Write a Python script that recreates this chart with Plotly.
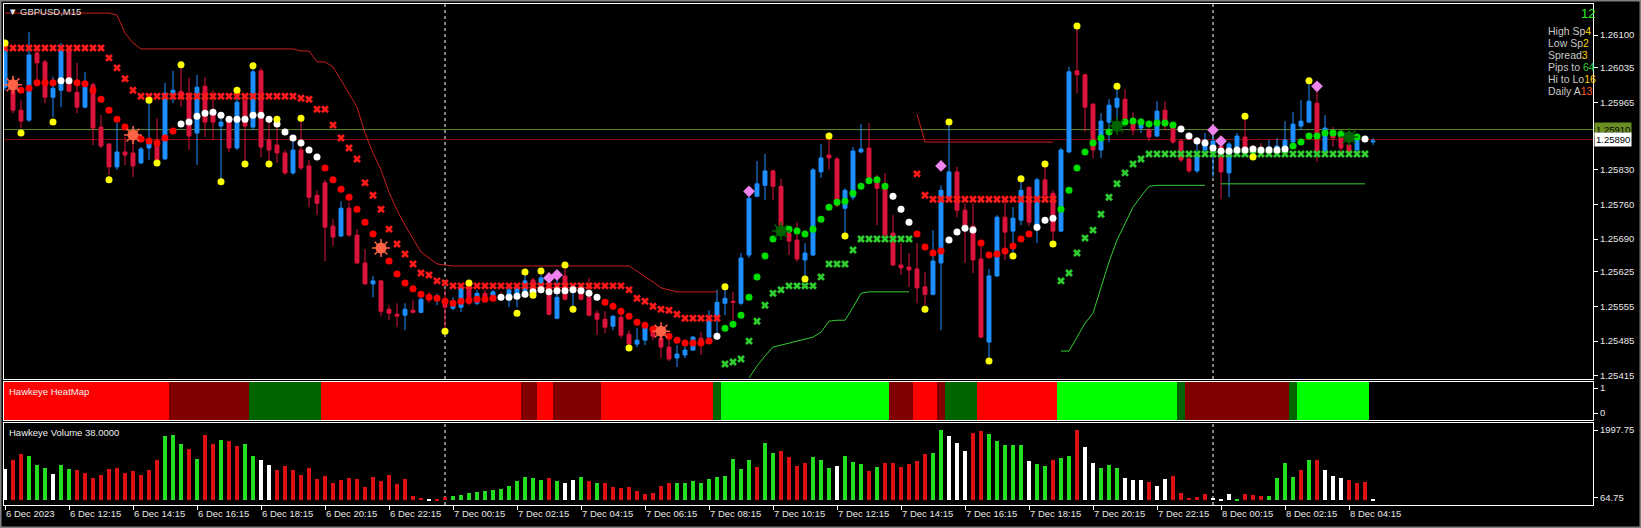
import plotly.graph_objects as go
from plotly.subplots import make_subplots

# ---------------- DATA ----------------
opens = [1.25995,1.25993,1.25949,1.25929,1.26064,1.26046,1.25975,1.25989,1.26072,1.25985,
 1.25955,1.26000,1.25915,1.25881,1.25835,1.25865,1.25863,1.25843,1.25873,1.25885,
 1.25851,1.25983,1.25987,1.25983,1.25903,1.25997,1.25943,1.25917,1.25933,1.25873,
 1.25969,1.25915,1.26028,1.25889,1.25879,1.25863,1.25823,1.25869,1.25837,1.25778,
 1.25803,1.25716,1.25696,1.25752,1.25698,1.25642,1.25600,1.25606,1.25549,1.25539,
 1.25537,1.25547,1.25543,1.25575,1.25567,1.25567,1.25551,1.25553,1.25600,1.25561,
 1.25581,1.25571,1.25577,1.25571,1.25573,1.25584,1.25608,1.25588,1.25594,1.25531,
 1.25616,1.25584,1.25592,1.25573,1.25541,1.25529,1.25515,1.25533,1.25499,1.25479,
 1.25487,1.25507,1.25491,1.25473,1.25451,1.25457,1.25467,1.25491,1.25493,1.25533,
 1.25561,1.25565,1.25561,1.25658,1.25776,1.25798,1.25827,1.25796,1.25702,1.25688,
 1.25648,1.25658,1.25825,1.25859,1.25851,1.25752,1.25774,1.25865,1.25873,1.25813,
 1.25792,1.25702,1.25638,1.25634,1.25630,1.25594,1.25579,1.25642,1.25774,1.25825,
 1.25748,1.25716,1.25650,1.25483,1.25616,1.25734,1.25706,1.25728,1.25794,1.25718,
 1.25809,1.25782,1.25706,1.25865,1.26028,1.26020,1.25961,1.25869,1.25925,1.25955,
 1.25971,1.25923,1.25913,1.25909,1.25897,1.25949,1.25915,1.25887,1.25851,1.25827,
 1.25869,1.25865,1.25877,1.25823,1.25875,1.25895,1.25873,1.25873,1.25867,1.25867,
 1.25869,1.25885,1.25917,1.25925,1.25963,1.25865,1.25903,1.25895,1.25879,1.25869,
 1.25889,1.25885]
highs = [1.26080,1.26014,1.25969,1.26106,1.26076,1.26050,1.26016,1.26084,1.26076,1.26044,
 1.26026,1.26004,1.25939,1.25883,1.25923,1.25895,1.25903,1.25875,1.25963,1.25933,
 1.26004,1.26028,1.26036,1.26014,1.26020,1.26016,1.25989,1.25943,1.25935,1.25983,
 1.25975,1.26034,1.26034,1.25929,1.25925,1.25869,1.25889,1.25929,1.25849,1.25788,
 1.25809,1.25730,1.25766,1.25764,1.25710,1.25670,1.25616,1.25608,1.25557,1.25561,
 1.25561,1.25567,1.25581,1.25584,1.25581,1.25588,1.25573,1.25594,1.25604,1.25588,
 1.25588,1.25588,1.25584,1.25592,1.25594,1.25618,1.25612,1.25618,1.25602,1.25614,
 1.25634,1.25594,1.25602,1.25612,1.25547,1.25545,1.25537,1.25551,1.25507,1.25511,
 1.25521,1.25517,1.25507,1.25501,1.25477,1.25481,1.25495,1.25503,1.25547,1.25588,
 1.25588,1.25584,1.25662,1.25776,1.25847,1.25861,1.25829,1.25811,1.25714,1.25724,
 1.25682,1.25833,1.25881,1.25889,1.25855,1.25792,1.25875,1.25921,1.25923,1.25819,
 1.25823,1.25738,1.25682,1.25662,1.25682,1.25624,1.25708,1.25798,1.25919,1.25835,
 1.25762,1.25762,1.25688,1.25630,1.25738,1.25774,1.25754,1.25807,1.25796,1.25813,
 1.25835,1.25788,1.25873,1.26036,1.26114,1.26022,1.25963,1.25943,1.25971,1.25993,
 1.25991,1.25945,1.25933,1.25915,1.25967,1.25967,1.25923,1.25891,1.25857,1.25895,
 1.25903,1.25903,1.25879,1.25885,1.25903,1.25929,1.25879,1.25883,1.25889,1.25893,
 1.25927,1.25945,1.25969,1.26004,1.25989,1.25939,1.25915,1.25909,1.25885,1.25901,
 1.25897,1.25893]
lows = [1.25989,1.25943,1.25913,1.25925,1.26004,1.25963,1.25935,1.25955,1.25985,1.25943,
 1.25953,1.25879,1.25873,1.25819,1.25829,1.25839,1.25815,1.25841,1.25849,1.25845,
 1.25849,1.25963,1.25955,1.25869,1.25839,1.25895,1.25889,1.25809,1.25865,1.25869,
 1.25843,1.25909,1.25855,1.25845,1.25843,1.25819,1.25819,1.25829,1.25754,1.25738,
 1.25646,1.25676,1.25694,1.25694,1.25640,1.25598,1.25573,1.25535,1.25527,1.25513,
 1.25507,1.25541,1.25541,1.25561,1.25557,1.25511,1.25547,1.25543,1.25557,1.25557,
 1.25567,1.25567,1.25567,1.25553,1.25553,1.25581,1.25577,1.25584,1.25537,1.25529,
 1.25567,1.25551,1.25567,1.25535,1.25497,1.25501,1.25507,1.25491,1.25475,1.25473,
 1.25477,1.25487,1.25451,1.25445,1.25433,1.25451,1.25465,1.25457,1.25487,1.25493,
 1.25537,1.25527,1.25557,1.25652,1.25774,1.25768,1.25768,1.25704,1.25658,1.25644,
 1.25612,1.25656,1.25813,1.25829,1.25754,1.25702,1.25768,1.25863,1.25805,1.25718,
 1.25694,1.25636,1.25618,1.25594,1.25561,1.25557,1.25577,1.25507,1.25768,1.25734,
 1.25642,1.25622,1.25491,1.25453,1.25614,1.25648,1.25662,1.25718,1.25716,1.25682,
 1.25774,1.25688,1.25704,1.25863,1.25983,1.25905,1.25853,1.25853,1.25885,1.25929,
 1.25923,1.25899,1.25903,1.25887,1.25895,1.25909,1.25881,1.25845,1.25823,1.25823,
 1.25859,1.25815,1.25770,1.25774,1.25869,1.25865,1.25859,1.25865,1.25865,1.25865,
 1.25865,1.25883,1.25909,1.25923,1.25845,1.25863,1.25875,1.25865,1.25859,1.25865,
 1.25885,1.25879]
closes = [1.26070,1.25949,1.25927,1.26060,1.26044,1.25975,1.25993,1.26072,1.25987,1.25955,
 1.25995,1.25913,1.25877,1.25835,1.25865,1.25859,1.25837,1.25871,1.25885,1.25849,
 1.25983,1.25989,1.25975,1.25897,1.25995,1.25925,1.25925,1.25925,1.25873,1.25965,
 1.25917,1.26026,1.25875,1.25869,1.25863,1.25823,1.25869,1.25833,1.25774,1.25762,
 1.25714,1.25694,1.25752,1.25698,1.25642,1.25600,1.25606,1.25545,1.25541,1.25535,
 1.25549,1.25543,1.25569,1.25569,1.25573,1.25553,1.25557,1.25592,1.25561,1.25581,
 1.25571,1.25584,1.25573,1.25588,1.25590,1.25606,1.25581,1.25612,1.25539,1.25573,
 1.25569,1.25592,1.25569,1.25537,1.25529,1.25513,1.25535,1.25497,1.25479,1.25487,
 1.25513,1.25495,1.25473,1.25449,1.25459,1.25467,1.25493,1.25477,1.25529,1.25563,
 1.25571,1.25563,1.25652,1.25772,1.25801,1.25827,1.25796,1.25718,1.25686,1.25650,
 1.25662,1.25829,1.25853,1.25853,1.25758,1.25788,1.25867,1.25871,1.25813,1.25792,
 1.25698,1.25638,1.25632,1.25628,1.25592,1.25579,1.25646,1.25788,1.25825,1.25748,
 1.25716,1.25648,1.25493,1.25616,1.25734,1.25704,1.25732,1.25788,1.25724,1.25809,
 1.25778,1.25706,1.25869,1.26026,1.26020,1.25955,1.25869,1.25927,1.25959,1.25973,
 1.25929,1.25909,1.25919,1.25895,1.25947,1.25925,1.25885,1.25849,1.25827,1.25859,
 1.25889,1.25887,1.25825,1.25881,1.25897,1.25867,1.25865,1.25867,1.25875,1.25877,
 1.25889,1.25921,1.25927,1.25967,1.25865,1.25913,1.25893,1.25873,1.25865,1.25895,
 1.25893,1.25887]

# trailing dots: price per bar and kind (r=red, w=white, g=green, o=orange burst, d=dark green burst, -=none)
dot_price = [None,1.26000,1.25989,1.25993,1.26004,1.26004,1.26004,1.26008,1.26008,1.26004,
 1.26002,1.25989,1.25971,1.25949,1.25931,1.25915,1.25899,1.25891,1.25887,1.25883,
 1.25893,1.25907,1.25921,1.25925,1.25937,1.25943,1.25945,1.25939,1.25931,1.25931,
 1.25931,1.25939,1.25939,1.25931,1.25921,1.25905,1.25893,1.25883,1.25869,1.25855,
 1.25833,1.25809,1.25790,1.25774,1.25750,1.25724,1.25700,1.25672,1.25646,1.25620,
 1.25602,1.25590,1.25579,1.25573,1.25571,1.25565,1.25561,1.25565,1.25567,1.25569,
 1.25569,1.25571,1.25573,1.25573,1.25575,1.25579,1.25584,1.25588,1.25584,1.25586,
 1.25586,1.25588,1.25586,1.25581,1.25573,1.25563,1.25555,1.25545,1.25535,1.25523,
 1.25517,1.25509,1.25505,1.25495,1.25487,1.25481,1.25481,1.25481,1.25485,1.25495,
 1.25511,1.25519,1.25537,1.25573,1.25614,1.25656,1.25690,1.25706,1.25710,1.25706,
 1.25700,1.25710,1.25730,1.25754,1.25764,1.25766,1.25782,1.25796,1.25807,1.25809,
 1.25796,1.25776,1.25750,1.25724,1.25700,1.25674,1.25662,1.25666,1.25688,1.25704,
 1.25712,1.25708,1.25682,1.25658,1.25660,1.25666,1.25676,1.25690,1.25700,1.25714,
 1.25728,1.25732,1.25750,1.25788,1.25833,1.25865,1.25883,1.25893,1.25905,1.25917,
 1.25925,1.25927,1.25925,1.25921,1.25923,1.25923,1.25919,1.25911,1.25897,1.25887,
 1.25883,1.25873,1.25867,1.25867,1.25869,1.25869,1.25871,1.25869,1.25869,1.25869,
 1.25871,1.25877,1.25885,1.25897,1.25897,1.25903,1.25903,1.25901,1.25895,1.25895,
 1.25891,None]
dot_kind = ("-orrrrrwwr" "rrrrrrorrr" "rrwwwwwwww" "wwwwwwwwww" "rrrrrrrorr"
            "rrrrrrrrrr" "rrwwwwwwww" "wwwwwrrrrr" "rrorrrrrrw" "gggggggdgg"
            "gggggggggg" "gwwwrrrrww" "wwrrrrrrrw" "wwgggggggd" "gggggggwww"
            "wwwwwwwwww" "wgggggggdg" "w-")

# trailing-stop crosses
xmark_price = [1.26074,1.26074,1.26074,1.26074,1.26074,1.26074,1.26074,1.26074,1.26074,1.26074,
 1.26074,1.26074,1.26074,1.26054,1.26034,1.26012,1.25989,1.25977,1.25977,1.25977,
 1.25977,1.25977,1.25977,1.25977,1.25977,1.25977,1.25977,1.25977,1.25977,1.25977,
 1.25977,1.25977,1.25977,1.25977,1.25977,1.25977,1.25977,1.25973,1.25971,1.25951,
 1.25951,1.25919,1.25893,1.25873,1.25851,1.25803,1.25778,1.25750,1.25710,1.25680,
 1.25660,1.25640,1.25622,1.25618,1.25606,1.25602,1.25596,1.25596,1.25596,1.25596,
 1.25596,1.25596,1.25596,1.25596,1.25596,1.25596,1.25596,1.25596,1.25596,1.25596,
 1.25596,1.25596,1.25596,1.25596,1.25596,1.25596,1.25596,1.25596,1.25588,1.25571,
 1.25565,1.25555,1.25549,1.25547,1.25539,1.25531,1.25531,1.25531,1.25531,1.25531,
 1.25439,1.25443,1.25449,1.25485,1.25525,1.25557,1.25581,1.25588,1.25596,1.25596,
 1.25596,1.25596,1.25614,1.25640,1.25640,1.25640,1.25668,1.25690,1.25690,1.25690,
 1.25690,1.25690,1.25690,1.25690,1.25821,1.25778,1.25770,1.25770,1.25770,1.25770,
 1.25770,1.25770,1.25770,1.25770,1.25770,1.25770,1.25770,1.25770,1.25770,1.25770,
 1.25770,1.25770,1.25606,1.25622,1.25662,1.25692,1.25708,1.25740,1.25774,1.25801,
 1.25823,1.25841,1.25851,1.25861,1.25861,1.25861,1.25861,1.25861,1.25861,1.25861,
 1.25861,1.25861,1.25861,1.25861,1.25861,1.25861,1.25861,1.25861,1.25861,1.25861,
 1.25861,1.25861,1.25861,1.25861,1.25861,1.25861,1.25861,1.25861,1.25861,1.25861,
 1.25861,None]
xmark_kind = ("rrrrrrrrrr" "rrrrrrrrrr" "rrrrrrrrrr" "rrrrrrrrrr" "rrrrrrrrrr"
              "rrrrrrrrrr" "rrrrrrrrrr" "rrrrrrrrrr" "rrrrrrrrrr" "gggggggggg"
              "gggggggggg" "ggggrrrrrr" "rrrrrrrrrr" "rrgggggggg" "gggggggggg"
              "gggggggggg" "gggggggggg" "g-")

# envelope lines (segments: start bar, values)
red_band_1_start = 0
red_band_1 = [1.26144,1.26144,1.26144,1.26144,1.26144,1.26144,1.26144,1.26144,1.26144,1.26144,
 1.26144,1.26144,1.26144,1.26144,1.26140,1.26104,1.26084,1.26072,1.26072,1.26072,
 1.26072,1.26072,1.26072,1.26072,1.26072,1.26072,1.26072,1.26072,1.26072,1.26072,
 1.26072,1.26072,1.26072,1.26072,1.26072,1.26072,1.26072,1.26068,1.26068,1.26046,
 1.26046,1.26036,1.26010,1.25983,1.25955,1.25903,1.25863,1.25829,1.25784,1.25748,
 1.25718,1.25692,1.25664,1.25652,1.25640,1.25638,1.25636,1.25636,1.25636,1.25636,
 1.25636,1.25636,1.25636,1.25636,1.25636,1.25636,1.25636,1.25636,1.25636,1.25636,
 1.25636,1.25636,1.25636,1.25636,1.25636,1.25636,1.25636,1.25636,1.25636,1.25626,
 1.25614,1.25604,1.25592,1.25588,1.25584,1.25584,1.25584,1.25584,1.25584,1.25584]
red_band_2_start = 114
red_band_2 = [1.25941,1.25885,1.25885,1.25885,1.25885,1.25885,1.25885,1.25885,1.25885,1.25885,
 1.25885,1.25885,1.25885,1.25885,1.25885,1.25885,1.25885,1.25885]
green_band_1_start = 93
green_band_1 = [1.25411,1.25435,1.25455,1.25473,1.25477,1.25481,1.25485,1.25489,1.25493,1.25503,
 1.25525,1.25527,1.25527,1.25553,1.25581,1.25584,1.25584,1.25584,1.25584,1.25584,1.25584]
green_band_2_start = 132
green_band_2 = [1.25465,1.25465,1.25493,1.25521,1.25541,1.25594,1.25644,1.25688,1.25720,1.25754,
 1.25776,1.25796,1.25798,1.25798,1.25798,1.25798,1.25798,1.25798,1.25798]
green_band_3_start = 152
green_band_3 = [1.25801,1.25801,1.25801,1.25801,1.25801,1.25801,1.25801,1.25801,1.25801,1.25801,
 1.25801,1.25801,1.25801,1.25801,1.25801,1.25801,1.25801,1.25801,1.25801]

yellow_idx = [0,2,6,13,18,19,22,27,29,30,31,33,34,37,55,58,64,65,66,67,70,71,78,90,100,103,105,
              115,118,123,126,127,130,131,134,139,155,156,163]
yellow_price = [1.26084,1.25903,1.25925,1.25809,1.25969,1.25843,1.26040,1.25805,1.25989,1.25841,
                1.26038,1.25841,1.25931,1.25933,1.25505,1.25602,1.25541,1.25624,1.25577,1.25626,
                1.25638,1.25549,1.25471,1.25594,1.25610,1.25897,1.25696,1.25549,1.25925,1.25445,
                1.25656,1.25811,1.25841,1.25680,1.26118,1.25997,1.25937,1.25855,1.26008]
diamond_idx = [68,69,93,117,151,152,164]
diamond_price = [1.25612,1.25618,1.25786,1.25837,1.25909,1.25887,1.25997]

hline_prices = [1.25910, 1.25890]
day_sep_idx = [55, 151]

# heat map state runs
heat_runs = [("red",21),("dkred",10),("dkgreen",9),("red",25),("dkred",2),("red",2),("dkred",6),
             ("red",14),("dkgreen",1),("lime",21),("dkred",3),("red",3),("dkred",1),("dkgreen",4),
             ("red",10),("lime",15),("dkgreen",1),("dkred",13),("dkgreen",1),("lime",9)]

vol = [890,1146,1316,1259,1004,910,748,1004,890,862,
 785,643,719,890,928,785,833,719,862,1146,
 1828,1856,1600,1458,1174,1856,1600,1714,1686,1544,
 1600,1259,1146,1004,862,975,862,719,918,606,
 691,492,577,634,606,387,662,549,719,463,
 606,122,60,40,30,90,120,150,200,230,
 260,300,330,420,560,650,620,580,640,560,
 500,580,660,560,500,483,370,341,370,265,
 180,199,407,483,483,483,549,483,606,653,
 691,1174,890,1146,947,1629,1345,1402,1231,975,
 1060,1231,1146,918,975,1259,1089,1032,833,947,
 1060,1060,947,1032,1117,1316,1345,1997,1828,1629,
 1402,1913,1970,1885,1686,1572,1572,1572,1117,1032,
 975,1146,1203,1259,1990,1515,1060,918,1004,918,
 634,577,577,520,407,606,691,208,65,94,
 180,60,30,180,30,180,151,122,122,634,
 1060,662,862,1146,1146,862,691,634,577,492,
 520,20]
vol_kind = ("wrrgggwggr" "rrrrrrrrrr" "gggrgrrgrr" "ggwwrrrrrr" "rrrrrrrrrr"
            "rrrwrrgggg" "ggggggggrg" "wwgrgrrrrr" "rrrrgggggg" "ggggrggrrr"
            "rgggwgggrg" "rrrrrrggww" "wrrgggggwg" "grggrwwggg" "wwwrwwrrrr"
            "rwwwgrrrgg" "ggrgrwwwrr" "rw")

label_idx = [0,8,16,24,32,40,48,56,64,72,80,88,96,104,112,120,128,136,144,152,160,168]
time_labels = ["6 Dec 2023","6 Dec 12:15","6 Dec 14:15","6 Dec 16:15","6 Dec 18:15","6 Dec 20:15",
               "6 Dec 22:15","7 Dec 00:15","7 Dec 02:15","7 Dec 04:15","7 Dec 06:15","7 Dec 08:15",
               "7 Dec 10:15","7 Dec 12:15","7 Dec 14:15","7 Dec 16:15","7 Dec 18:15","7 Dec 20:15",
               "7 Dec 22:15","8 Dec 00:15","8 Dec 02:15","8 Dec 04:15"]
price_ticks = [1.26100,1.26035,1.25965,1.25830,1.25760,1.25690,1.25625,1.25555,1.25485,1.25415]
vol_ticks = [64.75, 1997.75]

info_labels = ["High Sp", "Low Sp", "Spread", "Pips to ", "Hi to Lo", "Daily A"]
info_values = ["4", "2", "3", "64", "16", "13"]

# ---------------- STYLE ----------------
W, H = 1641, 528
L, R, T, B = 4, 48, 4, 23
PW, PH = W - L - R, H - T - B
FONT = "Liberation Sans, Arial, sans-serif"
UP, DN = "#1E90FF", "#DC143C"
DOT_COL = {"r": "#FF0000", "w": "#FFFFFF", "g": "#00E000", "o": "#FF6347", "d": "#006400"}
XM_COL = {"r": "#FF1A1A", "g": "#2ECC2E"}
HEAT_COL = {"red": "#FF0000", "dkred": "#800000", "dkgreen": "#006400", "lime": "#00FF00"}
VOL_COL = {"g": "#22DD22", "r": "#DD1111", "w": "#FFFFFF"}
info_colors = ["#FFD700", "#FFD700", "#FFD700", "#33CC33", "#FFCC00", "#FF5A1E"]


def py(p):
    return (H - B - p) / PH


def px(p):
    return (p - L) / PW


n = len(opens)
idx = list(range(n))

fig = make_subplots(rows=3, cols=1, shared_xaxes=True, vertical_spacing=0.005)

# envelope lines
for start, vals, col in [(red_band_1_start, red_band_1, "#C81E1E"), (red_band_2_start, red_band_2, "#C81E1E"),
                         (green_band_1_start, green_band_1, "#33CC33"), (green_band_2_start, green_band_2, "#33CC33"),
                         (green_band_3_start, green_band_3, "#33CC33")]:
    fig.add_trace(go.Scatter(x=list(range(start, start + len(vals))), y=vals, mode="lines",
                             line=dict(color=col, width=1), hoverinfo="skip"), row=1, col=1)

fig.add_trace(go.Candlestick(x=idx, open=opens, high=highs, low=lows, close=closes,
                             increasing=dict(line=dict(color=UP, width=1), fillcolor=UP),
                             decreasing=dict(line=dict(color=DN, width=1), fillcolor=DN),
                             whiskerwidth=0, hoverinfo="skip"), row=1, col=1)

# crosses
for k in "rg":
    xs = [i for i in idx if xmark_kind[i] == k]
    fig.add_trace(go.Scatter(x=xs, y=[xmark_price[i] for i in xs], mode="markers",
                             marker=dict(symbol="x", size=7, color=XM_COL[k], line=dict(width=0)),
                             hoverinfo="skip"), row=1, col=1)

# dots
for k in "rwg":
    xs = [i for i in idx if dot_kind[i] == k]
    fig.add_trace(go.Scatter(x=xs, y=[dot_price[i] for i in xs], mode="markers",
                             marker=dict(symbol="circle", size=7, color=DOT_COL[k], line=dict(width=0)),
                             hoverinfo="skip"), row=1, col=1)
for k in "od":
    xs = [i for i in idx if dot_kind[i] == k]
    ys = [dot_price[i] for i in xs]
    fig.add_trace(go.Scatter(x=xs, y=ys, mode="markers",
                             marker=dict(symbol="circle", size=11, color=DOT_COL[k], line=dict(width=0)),
                             hoverinfo="skip"), row=1, col=1)
    fig.add_trace(go.Scatter(x=xs, y=ys, mode="markers",
                             marker=dict(symbol="asterisk-open", size=15, color=DOT_COL[k],
                                         line=dict(width=1.5, color=DOT_COL[k])),
                             hoverinfo="skip"), row=1, col=1)

fig.add_trace(go.Scatter(x=yellow_idx, y=yellow_price, mode="markers",
                         marker=dict(symbol="circle", size=7, color="#FFFF00", line=dict(width=0)),
                         hoverinfo="skip"), row=1, col=1)
fig.add_trace(go.Scatter(x=diamond_idx, y=diamond_price, mode="markers",
                         marker=dict(symbol="diamond", size=9, color="#EE82EE", line=dict(width=0)),
                         hoverinfo="skip"), row=1, col=1)

# heat map
heat_colors = []
for name, cnt in heat_runs:
    heat_colors += [HEAT_COL[name]] * cnt
fig.add_trace(go.Bar(x=idx[:len(heat_colors)], y=[1.6] * len(heat_colors), base=-0.3, width=1.0,
                     marker=dict(color=heat_colors, line=dict(width=0)), hoverinfo="skip"), row=2, col=1)

# volume
fig.add_trace(go.Bar(x=idx, y=vol, width=0.38,
                     marker=dict(color=[VOL_COL[vol_kind[i]] for i in idx], line=dict(width=0)),
                     hoverinfo="skip"), row=3, col=1)

# shapes
shapes = []
for p, col in zip(hline_prices, ["#5E8A2A", "#8B1010"]):
    shapes.append(dict(type="line", xref="x domain", yref="y", x0=0, x1=1, y0=p, y1=p,
                       line=dict(color=col, width=1), layer="below"))
for d in day_sep_idx:
    for xr, yr in (("x", "y domain"), ("x3", "y3 domain")):
        shapes.append(dict(type="line", xref=xr, yref=yr, x0=d, x1=d, y0=0, y1=1,
                           line=dict(color="white", width=1, dash="3px,3px"), layer="below"))
shapes.append(dict(type="rect", xref="paper", yref="paper", x0=-L / PW, x1=(W - L) / PW,
                   y0=-B / PH, y1=(H - B) / PH, line=dict(color="#808080", width=3)))

# annotations
ann = []
ann.append(dict(text="▼ GBPUSD,M15", xref="paper", yref="paper", x=px(6), y=py(12), xanchor="left",
                yanchor="middle", showarrow=False, font=dict(family=FONT, size=9.5, color="#E0E0E0")))
ann.append(dict(text="Hawkeye HeatMap", xref="paper", yref="paper", x=px(7), y=py(391), xanchor="left",
                yanchor="middle", showarrow=False, font=dict(family=FONT, size=9.5, color="#F0F0F0")))
ann.append(dict(text="Hawkeye Volume 38.0000", xref="paper", yref="paper", x=px(7), y=py(432), xanchor="left",
                yanchor="middle", showarrow=False, font=dict(family=FONT, size=9.5, color="#F0F0F0")))
ann.append(dict(text="12", xref="paper", yref="paper", x=px(1597), y=py(14), xanchor="right",
                yanchor="middle", showarrow=False, font=dict(family=FONT, size=13, color="#22EE22")))
for k, (lab, val, vc) in enumerate(zip(info_labels, info_values, info_colors)):
    yy = py(31 + 12 * k)
    ann.append(dict(text=f"{lab}<span style='color:{vc}'>{val}</span>", xref="paper", yref="paper",
                    x=px(1546), y=yy, xanchor="left", yanchor="middle", showarrow=False,
                    font=dict(family=FONT, size=10.5, color="#C8C8C8")))
for p, bg in zip(hline_prices, ["#6B8E23", "#FFFFFF"]):
    ann.append(dict(text=f"{p:.5f}", xref="paper", yref="y", x=px(1594), y=p, xanchor="left",
                    yanchor="middle", showarrow=False, bgcolor=bg, borderpad=1,
                    font=dict(family=FONT, size=9.5, color="#000000")))

fig.update_layout(width=W, height=H, margin=dict(l=L, r=R, t=T, b=B),
                  paper_bgcolor="black", plot_bgcolor="black", showlegend=False,
                  barmode="overlay", bargap=0, hovermode=False,
                  font=dict(family=FONT, size=9.5, color="#E8E8E8"),
                  shapes=shapes, annotations=ann)

axcommon = dict(showgrid=False, zeroline=False, showline=True, mirror=True, linecolor="white", linewidth=1)
fig.update_xaxes(range=[-0.125, 198.5], rangeslider_visible=False, showticklabels=False, ticks="", **axcommon)
fig.update_xaxes(row=3, col=1, showticklabels=True, tickvals=label_idx, ticktext=time_labels,
                 ticks="outside", ticklen=4, tickcolor="white", tickwidth=1,
                 ticklabelposition="outside right",
                 tickfont=dict(family=FONT, size=9.5, color="#E8E8E8"))

ycommon = dict(side="right", ticks="outside", ticklen=4, tickcolor="white", tickwidth=1,
               tickfont=dict(family=FONT, size=9.5, color="#E8E8E8"), **axcommon)
fig.update_layout(
    yaxis=dict(domain=[py(379), 1.0], range=[1.254089, 1.261623], tickvals=price_ticks,
               ticktext=[f"{v:.5f}" for v in price_ticks], **ycommon),
    yaxis2=dict(domain=[py(420), py(382)], range=[-0.28, 1.24], tickvals=[0, 1], ticktext=["0", "1"], **ycommon),
    yaxis3=dict(domain=[0, py(423)], range=[-134.5, 2196.8], tickvals=vol_ticks,
                ticktext=[f"{v:.2f}" for v in vol_ticks], **ycommon),
)

fig.write_html("out.html", config={"displayModeBar": False},
               post_script="document.body.style.margin='0px';document.body.style.overflow='hidden';")
